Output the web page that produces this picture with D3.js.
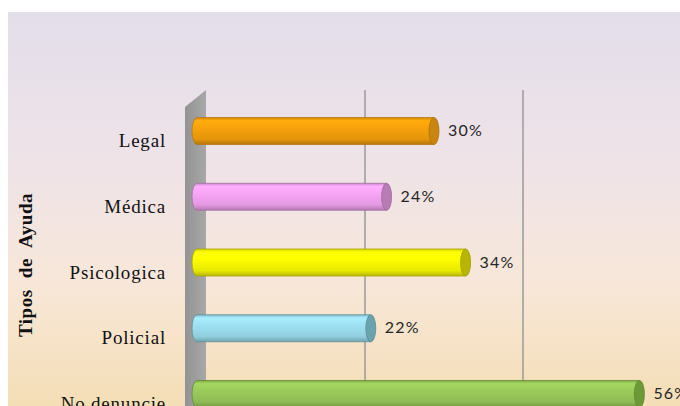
<!DOCTYPE html>
<html><head><meta charset="utf-8">
<script src="https://cdn.jsdelivr.net/npm/d3@7"></script>
<style>html,body{margin:0;padding:0;background:#fff;overflow:hidden}</style>
</head><body>
<svg id="chart" width="680" height="406"></svg>
<script>
const categories = ["Legal", "Médica", "Psicologica", "Policial", "No denuncie"];
const values = [30, 24, 34, 22, 56];
const valueLabels = ["30%", "24%", "34%", "22%", "56%"];
const gridTicks = [20, 40, 60];
const axisTitle = "Tipos de Ayuda";
const barColors = ["#f9a30c", "#f8a6f6", "#ffff00", "#9fe2f4", "#9ccc5c"];
const capColors = ["#c98510", "#b77bb5", "#b9b600", "#6aa3ad", "#6e9a36"];

const svg = d3.select("#chart");
const defs = svg.append("defs");

const bg = defs.append("linearGradient").attr("id","bg").attr("x1",0).attr("y1",0).attr("x2",0).attr("y2",1);
[[0,"#e3deeb"],[0.4,"#efe3e7"],[0.7,"#f8e7d8"],[1,"#f4deb5"]].forEach(s=>bg.append("stop").attr("offset",s[0]).attr("stop-color",s[1]));
svg.append("rect").attr("x",8).attr("y",12).attr("width",672).attr("height",394).attr("fill","url(#bg)");

const x = d3.scaleLinear().domain([0, 60]).range([197, 197 + 7.9*60]);
const y = d3.scalePoint().domain(categories).range([131, 394]);
const depth = 10;
const barH = 27;

// gridlines on the back plane
svg.append("g").selectAll("line").data(gridTicks).join("line")
  .attr("x1", d => x(d) + depth).attr("x2", d => x(d) + depth)
  .attr("y1", 90).attr("y2", 406)
  .attr("stroke", "#9a9a9a").attr("stroke-width", 1.5);

// side wall
const wg = defs.append("linearGradient").attr("id","wall").attr("x1",0).attr("x2",1);
wg.append("stop").attr("offset",0).attr("stop-color","#939393");
wg.append("stop").attr("offset",1).attr("stop-color","#a8a8a8");
const wx0 = x(0) - 12, wx1 = x(0) + 9;
svg.append("path")
  .attr("d", `M${wx0},107 L${wx1},90 L${wx1},406 L${wx0},406 Z`)
  .attr("fill","url(#wall)");

// bars (cylinders)
categories.forEach((c, i) => {
  const g = defs.append("linearGradient").attr("id","bar"+i).attr("x1",0).attr("y1",0).attr("x2",0).attr("y2",1);
  const base = d3.color(barColors[i]);
  g.append("stop").attr("offset",0).attr("stop-color", base.darker(0.5));
  g.append("stop").attr("offset",0.12).attr("stop-color", base.brighter(0.15));
  g.append("stop").attr("offset",0.35).attr("stop-color", base);
  g.append("stop").attr("offset",0.8).attr("stop-color", base.darker(0.25));
  g.append("stop").attr("offset",1).attr("stop-color", base.darker(0.9));
});

const bars = svg.append("g").selectAll("g").data(categories).join("g");
const rx = 5;
bars.append("path")
  .attr("d", (c, i) => {
    const x0 = x(0), x1 = x(values[i]), yc = y(c), h = barH/2;
    return `M${x1},${yc-h} L${x0},${yc-h} A${rx},${h} 0 0 0 ${x0},${yc+h} L${x1},${yc+h} Z`;
  })
  .attr("fill", (c, i) => `url(#bar${i})`)
  .attr("stroke", (c, i) => d3.color(capColors[i]).darker(0.3))
  .attr("stroke-width", 0.8);
bars.append("ellipse")
  .attr("cx", (c, i) => x(values[i])).attr("cy", c => y(c))
  .attr("rx", rx).attr("ry", barH/2)
  .attr("fill", (c, i) => capColors[i])
  .attr("stroke", (c, i) => d3.color(capColors[i]).darker(0.4))
  .attr("stroke-width", 0.8);

// value labels
svg.append("g").selectAll("text").data(categories).join("text")
  .attr("x", (c, i) => x(values[i]) + rx + 9)
  .attr("y", c => y(c) + 1)
  .attr("dominant-baseline","middle")
  .attr("font-family","Lato, 'Open Sans', sans-serif")
  .attr("font-size", 16).attr("letter-spacing", 1.2)
  .attr("fill","#262626")
  .text((c, i) => valueLabels[i]);

// category labels
svg.append("g").selectAll("text").data(categories).join("text")
  .attr("x", 166).attr("y", c => y(c) + 16)
  .attr("text-anchor","end")
  .attr("font-family","'Liberation Serif', 'Times New Roman', serif")
  .attr("font-size", 19).attr("letter-spacing", 0.8)
  .attr("fill","#111")
  .text(c => c);

// axis title
svg.append("text")
  .attr("transform","translate(32,265) rotate(-90)")
  .attr("text-anchor","middle")
  .attr("font-family","'Liberation Serif', 'Times New Roman', serif")
  .attr("font-weight","bold")
  .attr("font-size", 19).attr("word-spacing", 6).attr("letter-spacing", 0.5)
  .attr("fill","#111")
  .text(axisTitle);
</script>
</body></html>
